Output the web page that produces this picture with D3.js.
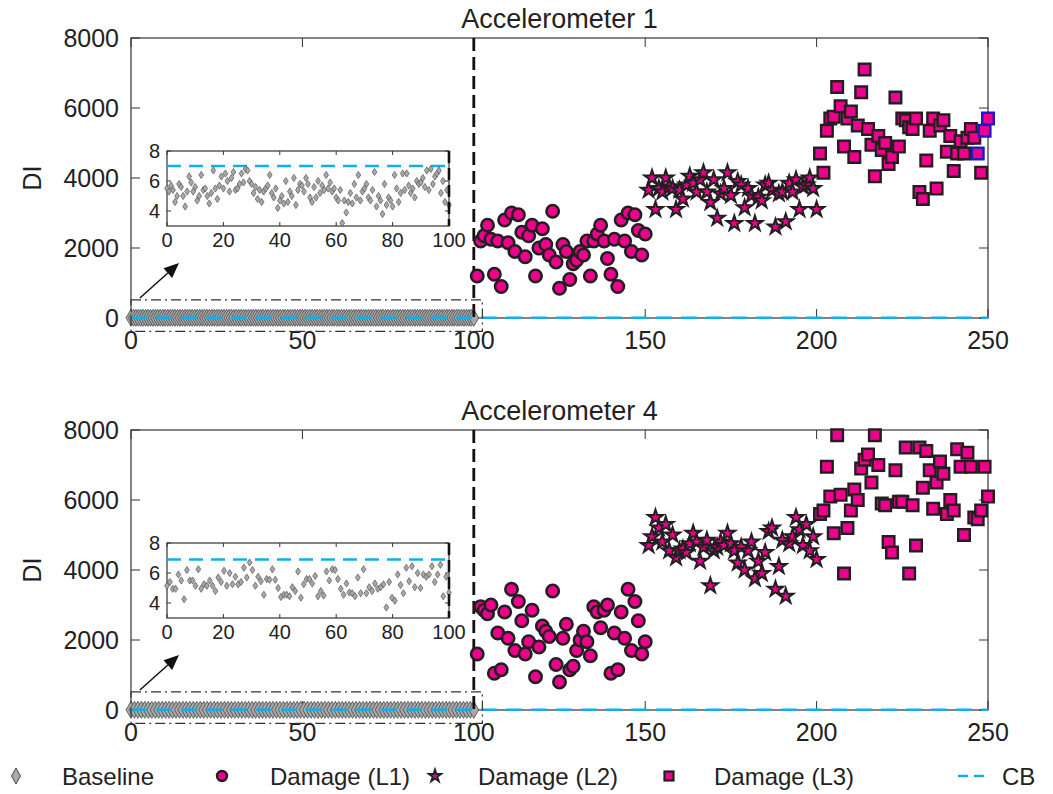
<!DOCTYPE html>
<html><head><meta charset="utf-8">
<script src="https://cdn.jsdelivr.net/npm/d3@7"></script>
<style>body{margin:0;background:#fff;} text{font-family:"Liberation Sans",Arial,sans-serif;fill:#222;}</style>
</head><body><svg id="c" width="1053" height="794"></svg>
<script>
// ---------------- DATA ----------------
const xTickLabels = [0, 50, 100, 150, 200, 250];
const yTickLabels = [0, 2000, 4000, 6000, 8000];
const insetXTicks = [0, 20, 40, 60, 80, 100];
const insetYTicks = [4, 6, 8];
const titles = ["Accelerometer 1", "Accelerometer 4"];
const legendLabels = ["Baseline", "Damage (L1)", "Damage (L2)", "Damage (L3)", "CB"];

// baseline DI values (cases 0..100)
const baseline1 = [5.5,5.3,5.7,5.4,4.6,5.0,5.8,5.6,5.0,4.3,5.3,6.3,5.9,5.3,5.6,4.7,5.0,6.4,5.4,5.5,5.0,4.5,5.2,6.7,5.5,4.8,5.7,6.3,5.5,6.5,6.0,5.3,6.2,6.6,5.4,5.5,5.8,6.5,5.9,6.8,6.7,6.0,5.8,5.2,5.6,4.8,5.4,4.6,5.3,5.5,5.7,6.4,5.2,4.9,5.5,4.2,4.7,5.0,4.5,6.0,4.6,5.3,5.0,6.2,4.4,5.4,5.8,5.7,5.3,6.2,5.8,4.9,4.6,5.6,4.9,6.0,5.2,5.7,5.4,6.4,5.5,5.9,5.3,5.5,4.9,4.7,5.4,3.2,4.7,3.9,4.6,5.2,4.5,5.8,4.9,6.4,4.7,5.3,5.5,5.8,4.9,4.7,5.4,6.6,4.3,5.0,4.7,3.8,5.8,4.4,4.9,4.7,4.3,6.4,5.5,4.6,5.2,6.5,5.4,6.5,5.7,5.2,5.5,4.9,6.0,5.8,5.9,6.2,5.6,6.7,5.4,6.8,5.8,6.3,6.5,6.7,5.2,6.0,4.6,5.4,4.4];
const baseline4 = [5.15,5.4,4.95,4.95,5.9,5.5,4.25,6.2,5.5,5.5,5.15,6.25,4.95,5.25,5.15,5.5,5.15,4.8,5.7,5.4,6.15,5.15,6.0,5.25,5.75,5.25,5.4,6.35,5.7,6.7,6.2,5.15,5.75,5.45,4.55,5.6,5.55,6.25,5.55,5.0,4.4,4.55,4.55,4.45,5.05,4.8,6.1,4.35,5.25,5.6,5.6,5.3,5.8,4.45,4.8,4.5,6.1,5.5,6.25,6.2,5.6,4.95,4.55,5.3,4.7,4.65,4.45,5.7,4.65,6.25,4.65,5.05,4.8,5.3,4.95,5.05,5.25,3.7,5.4,4.35,4.15,5.9,5.2,4.65,6.35,5.45,6.45,5.05,6.0,5.0,5.9,5.75,5.9,6.45,5.4,5.9,6.55,4.45,5.75,4.7];
const cbValues = [7.0, 6.9];

const xL1 = d3.range(101, 151);
const xL2 = d3.range(151, 201);
const xL3 = d3.range(201, 251);

const acc1L1 = [1200,2200,2350,2650,2250,1250,2200,900,2800,2150,3000,1900,2950,2450,1750,2350,2650,1200,2000,2550,2100,1800,3050,1600,850,2100,1900,1100,1550,1650,1900,1800,2200,1200,2200,2400,2650,2200,1700,1250,2250,900,2800,2200,3000,1900,2950,2500,1800,2400];
const acc1L2 = [3650,4000,3100,3700,3600,4000,3750,3700,3100,3650,3400,3800,4050,3850,3600,3950,4150,3600,3300,3950,2850,3550,3700,4150,3500,2700,3900,3800,3150,3700,3500,2700,3450,3350,3800,3850,3650,2600,3550,3600,2750,3850,3600,3950,3100,3750,3800,4000,3700,3100];
const acc1L3 = [4700,4150,5350,5700,5750,6600,6050,4900,5700,5900,4600,5500,6450,7100,5400,4950,4050,5200,4800,5000,4400,4600,6300,4900,5700,5650,5450,5400,5700,3600,3400,4500,5350,5700,3700,5500,5650,4750,5200,4200,4700,5050,4700,5150,5400,5150,4700,4150,5350,5700];
const acc1Highlight = [247, 249, 250];

const acc4L1 = [1600,2950,2850,2750,3000,1050,2200,1150,2800,2050,3450,1700,3100,2550,1600,1950,2850,950,1800,2400,2250,2100,3400,1300,800,2050,2450,1150,1250,1700,2000,2250,1950,1550,2950,2800,2350,2850,3000,1050,2200,1150,2800,2050,3450,1700,3100,2550,1600,1950];
const acc4L2 = [4700,4950,5500,5200,4800,5300,4550,5000,4350,4550,4600,4500,4750,5050,4800,4250,4650,4850,3550,4550,4650,4800,4700,5050,4750,4550,4200,4650,4000,4550,4800,3750,4250,3900,4500,5100,5200,3450,4100,4850,3250,4750,4950,5500,5150,4700,5300,4550,4950,4300];
const acc4L3 = [5600,5700,6950,6100,5050,7850,6150,3900,5200,5700,6300,6000,6900,7150,7300,6500,7850,7000,5900,5850,4800,4500,6850,5950,5950,7500,3900,5850,4700,7500,6350,7400,6850,5750,6500,7100,6750,5600,6000,5700,7450,6950,5000,7350,6950,5500,5450,5700,6950,6100];
const acc4Highlight = [];

// ---------------- DRAW ----------------
const svg = d3.select("#c");
const MAG = "#ec008c", EDGE = "#231f20", CBC = "#12aee8", GRAYF = "#a8a8a8", GRAYE = "#4a4a4a";
const diamond = (w, h) => `M0,${-h}L${w},0L0,${h}L${-w},0Z`;
const starPath = d3.symbol(d3.symbolStar).size(72)();
const starLegend = d3.symbol(d3.symbolStar).size(48)();
const left = 131, right = 988;
const x = d3.scaleLinear().domain([0, 250]).range([left, right]);

function panel(top, title, base, cb, l1, l2, l3, hl) {
  const bottom = top + 280;
  const y = d3.scaleLinear().domain([0, 8000]).range([bottom, top]);
  const g = svg.append("g");
  g.append("rect").attr("x", left).attr("y", top).attr("width", right - left).attr("height", bottom - top)
    .attr("fill", "none").attr("stroke", "#333").attr("stroke-width", 1.2);
  xTickLabels.forEach(t => {
    g.append("line").attr("x1", x(t)).attr("x2", x(t)).attr("y1", bottom).attr("y2", bottom - 9).attr("stroke", "#333");
    g.append("line").attr("x1", x(t)).attr("x2", x(t)).attr("y1", top).attr("y2", top + 9).attr("stroke", "#333");
    g.append("text").attr("x", x(t)).attr("y", bottom + 31).attr("text-anchor", "middle").attr("font-size", 25).text(t);
  });
  yTickLabels.forEach(t => {
    g.append("line").attr("x1", left).attr("x2", left + 9).attr("y1", y(t)).attr("y2", y(t)).attr("stroke", "#333");
    g.append("line").attr("x1", right).attr("x2", right - 9).attr("y1", y(t)).attr("y2", y(t)).attr("stroke", "#333");
    g.append("text").attr("x", left - 12).attr("y", y(t) + 9).attr("text-anchor", "end").attr("font-size", 25).text(t);
  });
  g.append("text").attr("x", (left + right) / 2).attr("y", top - 10).attr("text-anchor", "middle").attr("font-size", 27).text(title);
  g.append("text").attr("transform", `translate(41,${(top + bottom) / 2}) rotate(-90)`).attr("text-anchor", "middle").attr("font-size", 25).text("DI");

  // baseline band
  const xb = d3.scaleLinear().domain([0, base.length - 1]).range([0, 100]);
  g.selectAll(null).data(base).join("path").attr("d", diamond(5, 8.5))
    .attr("transform", (d, i) => `translate(${x(xb(i))},${y(d)})`)
    .attr("fill", GRAYF).attr("stroke", GRAYE).attr("stroke-width", 0.8);
  g.append("line").attr("x1", x(0)).attr("x2", x(250)).attr("y1", y(cb)).attr("y2", y(cb))
    .attr("stroke", CBC).attr("stroke-width", 2.6).attr("stroke-dasharray", "16,9");
  g.append("line").attr("x1", x(100)).attr("x2", x(100)).attr("y1", top).attr("y2", bottom)
    .attr("stroke", "#111").attr("stroke-width", 2.8).attr("stroke-dasharray", "13,6");
  g.selectAll(null).data(l1).join("circle").attr("cx", (d, i) => x(xL1[i])).attr("cy", d => y(d)).attr("r", 6.2)
    .attr("fill", MAG).attr("stroke", EDGE).attr("stroke-width", 2.6);
  g.selectAll(null).data(l2).join("path").attr("d", starPath)
    .attr("transform", (d, i) => `translate(${x(xL2[i])},${y(d)})`)
    .attr("fill", MAG).attr("stroke", EDGE).attr("stroke-width", 2);
  g.selectAll(null).data(l3).join("rect")
    .attr("x", (d, i) => x(xL3[i]) - 5.8).attr("y", d => y(d) - 5.8).attr("width", 11.6).attr("height", 11.6)
    .attr("fill", MAG).attr("stroke", (d, i) => hl.includes(xL3[i]) ? "#1a1acc" : EDGE).attr("stroke-width", 2.4);

  g.append("rect").attr("x", x(0)).attr("y", y(520)).attr("width", x(102.5) - x(0)).attr("height", y(-380) - y(520))
    .attr("fill", "none").attr("stroke", "#333").attr("stroke-width", 1.2).attr("stroke-dasharray", "10,4,2,4");
  const ax0 = x(2.6), ay0 = y(570), ax1 = x(14), ay1 = y(1570);
  const ang = Math.atan2(ay1 - ay0, ax1 - ax0);
  const hl2 = 15, hw = 6.5;
  const bx = ax1 - hl2 * Math.cos(ang), by = ay1 - hl2 * Math.sin(ang);
  g.append("line").attr("x1", ax0).attr("y1", ay0).attr("x2", bx).attr("y2", by).attr("stroke", "#111").attr("stroke-width", 1.5);
  g.append("path").attr("d", `M${ax1},${ay1}L${bx - hw * Math.sin(ang)},${by + hw * Math.cos(ang)}L${bx + hw * Math.sin(ang)},${by - hw * Math.cos(ang)}Z`).attr("fill", "#111");

  // inset
  const ix = d3.scaleLinear().domain([0, 100]).range([167, 449]);
  const iy = d3.scaleLinear().domain([3, 8]).range([top + 188, top + 113]);
  const ig = svg.append("g");
  ig.append("rect").attr("x", 167).attr("y", top + 113).attr("width", 282).attr("height", 75)
    .attr("fill", "#fff").attr("stroke", "#333").attr("stroke-width", 1.2);
  insetXTicks.forEach(t => {
    ig.append("line").attr("x1", ix(t)).attr("x2", ix(t)).attr("y1", iy(3)).attr("y2", iy(3) - 4).attr("stroke", "#333");
    ig.append("line").attr("x1", ix(t)).attr("x2", ix(t)).attr("y1", iy(8)).attr("y2", iy(8) + 4).attr("stroke", "#333");
    ig.append("text").attr("x", ix(t)).attr("y", iy(3) + 21).attr("text-anchor", "middle").attr("font-size", 20).text(t);
  });
  insetYTicks.forEach(t => {
    ig.append("line").attr("x1", 167).attr("x2", 171).attr("y1", iy(t)).attr("y2", iy(t)).attr("stroke", "#333");
    ig.append("line").attr("x1", 449).attr("x2", 445).attr("y1", iy(t)).attr("y2", iy(t)).attr("stroke", "#333");
    ig.append("text").attr("x", 160).attr("y", iy(t) + 7).attr("text-anchor", "end").attr("font-size", 20).text(t);
  });
  ig.append("line").attr("x1", ix(0)).attr("x2", ix(100)).attr("y1", iy(cb)).attr("y2", iy(cb))
    .attr("stroke", CBC).attr("stroke-width", 2.6).attr("stroke-dasharray", "14,8");
  ig.selectAll(null).data(base).join("path").attr("d", diamond(2.4, 3.6))
    .attr("transform", (d, i) => `translate(${ix(xb(i))},${iy(d)})`)
    .attr("fill", GRAYF).attr("stroke", "#555").attr("stroke-width", 0.7);
  ig.append("line").attr("x1", ix(100)).attr("x2", ix(100)).attr("y1", iy(8)).attr("y2", iy(3))
    .attr("stroke", "#111").attr("stroke-width", 2.6).attr("stroke-dasharray", "12,5");
}

panel(38, titles[0], baseline1, cbValues[0], acc1L1, acc1L2, acc1L3, acc1Highlight);
panel(430, titles[1], baseline4, cbValues[1], acc4L1, acc4L2, acc4L3, acc4Highlight);

// legend
const lg = svg.append("g");
const ly = 776;
const legendPos = [[16, 62], [222, 270], [435, 478], [669, 714], [968, 1002]];
lg.append("path").attr("d", diamond(4.5, 8)).attr("transform", `translate(${legendPos[0][0]},${ly})`).attr("fill", GRAYF).attr("stroke", GRAYE);
lg.append("circle").attr("cx", legendPos[1][0]).attr("cy", ly).attr("r", 5).attr("fill", MAG).attr("stroke", EDGE).attr("stroke-width", 2.4);
lg.append("path").attr("d", starLegend).attr("transform", `translate(${legendPos[2][0]},${ly})`).attr("fill", MAG).attr("stroke", EDGE).attr("stroke-width", 1.8);
lg.append("rect").attr("x", legendPos[3][0] - 4.5).attr("y", ly - 4.5).attr("width", 9).attr("height", 9).attr("fill", MAG).attr("stroke", EDGE).attr("stroke-width", 2.2);
lg.append("line").attr("x1", legendPos[4][0] - 10).attr("x2", legendPos[4][0] + 20).attr("y1", ly).attr("y2", ly).attr("stroke", CBC).attr("stroke-width", 2.6).attr("stroke-dasharray", "10,6");
legendLabels.forEach((t, i) => {
  lg.append("text").attr("x", legendPos[i][1]).attr("y", ly + 9).attr("font-size", 24).text(t);
});
</script></body></html>
